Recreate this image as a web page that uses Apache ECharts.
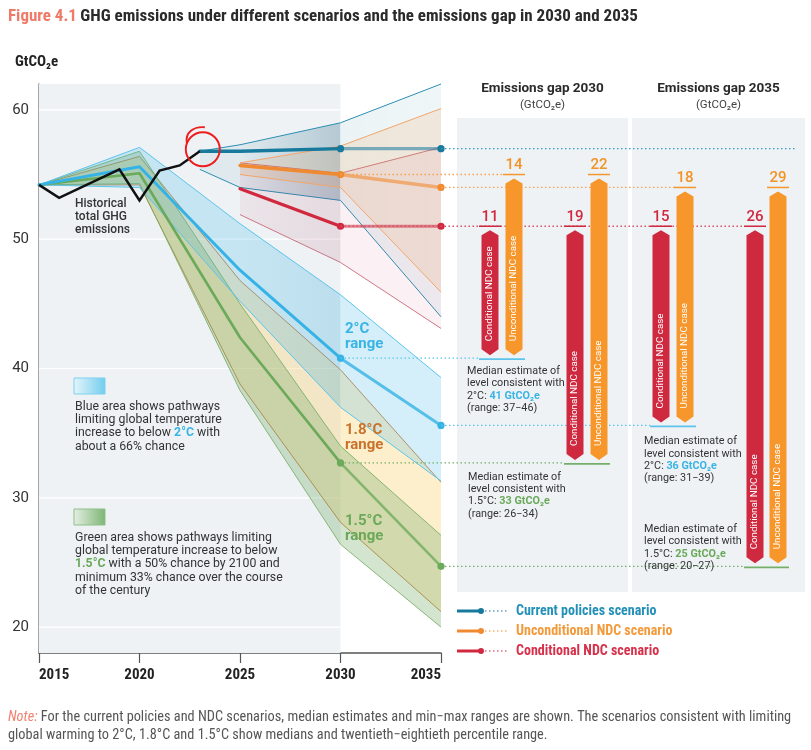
<!DOCTYPE html>
<html><head><meta charset="utf-8">
<script src="https://cdn.jsdelivr.net/npm/echarts@6/dist/echarts.min.js"></script>
<style>html,body{margin:0;padding:0;background:#fff}#c{width:811px;height:750px}</style>
</head><body><div id="c"></div>
<script>
// ---------------- DATA ----------------
const xTicks = [2015, 2020, 2025, 2030, 2035];
const yTicks = [20, 30, 40, 50, 60];

const histYears  = [2015, 2016, 2019, 2020, 2021, 2022, 2023];
const histValues = [54.2, 53.2, 55.4, 53.0, 55.3, 55.7, 56.8];

const pathYears = [2015, 2020, 2025, 2030, 2035];
const p2Median  = [54.2, 55.6, 47.6, 40.8, 35.6];
const p2Upper   = [54.2, 57.1, 51.2, 45.7, 39.3];
const p2Lower   = [54.2, 54.0, 45.2, 37.0, 31.3];
const p18Upper  = [54.2, 56.4, 46.8, 39.9, 31.2];
const p18Lower  = [54.2, 54.2, 38.8, 28.1, 21.2];
const p15Median = [54.2, 55.1, 42.4, 32.7, 24.7];
const p15Upper  = [54.2, 56.8, 45.0, 34.0, 27.1];
const p15Lower  = [54.2, 54.3, 38.3, 26.4, 20.0];

const curYears  = [2023, 2025, 2030, 2035];
const curMedian = [56.8, 56.8, 57.0, 57.0];
const curUpper  = [56.8, 57.3, 59.0, 62.0];
const curLower  = [55.4, 54.0, 53.0, 44.0];

const ndcYears  = [2025, 2030, 2035];
const uncMedian = [55.7, 55.0, 54.0];
const uncUpper  = [55.9, 57.2, 60.1];
const uncLower  = [55.0, 54.0, 45.9];
const conMedian = [53.9, 51.0, 51.0];
const conUpper  = [55.9, 55.1, 57.1];
const conLower  = [51.9, 48.2, 43.1];

const gapYears   = [2030, 2035];
const gapCond    = [[11, 19], [15, 26]];   // [year][2°C, 1.5°C]
const gapUncond  = [[14, 22], [18, 29]];
const target2C   = [41, 36];
const range2C    = ['37−46', '31−39'];
const target15   = [33, 25];
const range15    = ['26−34', '20−27'];
const caseNames  = ['Conditional NDC case', 'Unconditional NDC case'];
const legendNames = ['Current policies scenario', 'Unconditional NDC scenario', 'Conditional NDC scenario'];

// ---------------- LAYOUT / STYLE ----------------
const Y_MIN = 18, Y_MAX = 62, SHADE_END = 2030;
const NARROW = "'Liberation Sans Narrow','Roboto Condensed','Arial Narrow',Roboto,sans-serif";
const SANS = "Roboto,'Noto Sans',sans-serif";
const C = {
  teal: '#17799c', tealLine: '#2b8fb3', orange: '#f08a30', red: '#d0283e',
  blue: '#36b3e6', blueLine: '#5cc4ec', brown: '#c47a3a', green: '#6aaa5a',
  barRed: '#cf2940', barOrange: '#f6962b', panel: '#eef2f5'
};
const L = {
  panels: [{x: 457, w: 171}, {x: 632, w: 173}], panelTop: 118, panelBottom: 592,
  barX: [[[490, 514], [575, 599]], [[661, 685], [755, 778]]],
  barW: 17, curLineEnd: 795,
  medText: [[{x: 467, dy: 7, va: 'top'}, {x: 468, dy: 8, va: 'top'}],
            [{x: 644, dy: 10, va: 'top'}, {x: 644, dy: 6, va: 'bottom'}]]
};

// ---------------- HELPERS ----------------
function band(xs, lo, up, fill, edge, ew, z, shade) {
  return {type: 'custom', z, silent: true, clip: false, data: [[xs[0], lo[0]]],
    renderItem(p, api) {
      const top = xs.map((x, i) => api.coord([x, up[i]]));
      const bot = xs.map((x, i) => api.coord([x, lo[i]]));
      const poly = top.concat(bot.slice().reverse());
      const ch = [{type: 'polygon', shape: {points: poly}, style: {fill: fill, stroke: null}}];
      if (shade) {
        const x0 = api.coord([shade[0], 40])[0], x1 = api.coord([shade[1], 40])[0], x2 = api.coord([xs[xs.length - 1], 40])[0];
        const rgb = shade[5], f = (x1 - x0) / (x2 - x0);
        ch.push({type: 'polygon', shape: {points: poly}, style: {stroke: null,
          fill: new echarts.graphic.LinearGradient(x0, 0, x2, 0, [
            {offset: 0, color: 'rgba(' + rgb + ',' + shade[2] + ')'},
            {offset: f - 0.001, color: 'rgba(' + rgb + ',' + shade[3] + ')'},
            {offset: f, color: 'rgba(' + rgb + ',' + shade[4] + ')'},
            {offset: 1, color: 'rgba(' + rgb + ',0)'}], true)}});
      }
      ch.push({type: 'polyline', shape: {points: top}, style: {stroke: edge, lineWidth: ew, fill: null}});
      ch.push({type: 'polyline', shape: {points: bot}, style: {stroke: edge, lineWidth: ew, fill: null}});
      return {type: 'group', children: ch};
    }};
}
function median(xs, vals, color, width, z, fadeFrom, fadeOpacity, dotsFrom) {
  return {type: 'custom', z, silent: true, clip: false, data: [[xs[0], vals[0]]],
    renderItem(p, api) {
      const pts = xs.map((x, i) => api.coord([x, vals[i]]));
      const strong = pts.filter((q, i) => xs[i] <= fadeFrom);
      const faded = pts.filter((q, i) => xs[i] >= fadeFrom);
      const ch = [
        {type: 'polyline', shape: {points: faded}, style: {stroke: color, opacity: fadeOpacity, lineWidth: width, fill: null, lineJoin: 'round'}},
        {type: 'polyline', shape: {points: strong}, style: {stroke: color, lineWidth: width, fill: null, lineJoin: 'round', lineCap: 'round'}}
      ];
      pts.forEach((q, i) => { if (xs[i] >= dotsFrom) ch.push({type: 'circle', shape: {cx: q[0], cy: q[1], r: 3.6}, style: {fill: color}}); });
      return {type: 'group', children: ch};
    }};
}

// ---------------- GRAPHICS (annotations) ----------------
const G = [];
function T(x, y, text, style) { G.push({type: 'text', x, y, silent: true, z: 50, style: Object.assign({text}, style)}); }

T(8, 17, '{r|Figure 4.1} {d|GHG emissions under different scenarios and the emissions gap in 2030 and 2035}',
  {verticalAlign: 'middle', rich: {
    r: {fill: '#f07a68', fontSize: 17, fontWeight: 'bold', fontFamily: NARROW},
    d: {fill: '#2a2a2a', fontSize: 17, fontWeight: 'bold', fontFamily: NARROW}}});
T(15, 62, 'GtCO₂e', {verticalAlign: 'middle', fill: '#222', fontSize: 15, fontWeight: 'bold', fontFamily: NARROW});

T(75, 197, 'Historical\ntotal GHG\nemissions', {fill: '#333', fontSize: 12, fontWeight: 500, fontFamily: SANS, lineHeight: 13});
T(345, 322, '2°C\nrange', {fill: '#3ab4e4', fontSize: 15, fontWeight: 'bold', fontFamily: SANS, lineHeight: 15});
T(345, 423, '1.8°C\nrange', {fill: '#c8722c', fontSize: 15, fontWeight: 'bold', fontFamily: SANS, lineHeight: 15});
T(345, 514, '1.5°C\nrange', {fill: '#6aa85a', fontSize: 15, fontWeight: 'bold', fontFamily: SANS, lineHeight: 15});

G.push({type: 'rect', silent: true, z: 50, shape: {x: 74, y: 378, width: 31, height: 16},
  style: {stroke: '#7fd0ee', lineWidth: 1, fill: new echarts.graphic.LinearGradient(0, 0, 1, 0, [{offset: 0, color: '#e4f5fb'}, {offset: 1, color: '#72cdee'}])}});
G.push({type: 'rect', silent: true, z: 50, shape: {x: 74, y: 509, width: 31, height: 16},
  style: {stroke: '#8fbf88', lineWidth: 1, fill: new echarts.graphic.LinearGradient(0, 0, 1, 0, [{offset: 0, color: '#e6efe4'}, {offset: 1, color: '#7cb574'}])}});
const boxText = {fill: '#333', fontSize: 12.3, fontFamily: SANS, lineHeight: 13.3};
T(75, 400, 'Blue area shows pathways\nlimiting global temperature\nincrease to below {b|2°C} with\nabout a 66% chance',
  Object.assign({}, boxText, {rich: {b: {fill: '#3ab4e4', fontSize: 12.3, fontWeight: 'bold', fontFamily: SANS, lineHeight: 13.3}}}));
T(75, 531, 'Green area shows pathways limiting\nglobal temperature increase to below\n{g|1.5°C} with a 50% chance by 2100 and\nminimum 33% chance over the course\nof the century',
  Object.assign({}, boxText, {rich: {g: {fill: '#6aa85a', fontSize: 12.3, fontWeight: 'bold', fontFamily: SANS, lineHeight: 13.3}}}));

L.panels.forEach((pn, i) => {
  T(pn.x + pn.w / 2, 89, 'Emissions gap ' + gapYears[i], {align: 'center', verticalAlign: 'middle', fill: '#2a2a2a', fontSize: 13.5, fontWeight: 'bold', fontFamily: SANS});
  T(pn.x + pn.w / 2, 105, '(GtCO₂e)', {align: 'center', verticalAlign: 'middle', fill: '#444', fontSize: 11.5, fontFamily: SANS});
});

const legColors = [C.teal, C.orange, C.red];
const legText = ['#2390b8', '#f39a3a', '#d6304a'];
legendNames.forEach((n, i) => {
  const y = 611 + i * 20;
  G.push({type: 'line', silent: true, z: 50, shape: {x1: 457, y1: y, x2: 481, y2: y}, style: {stroke: legColors[i], lineWidth: 3}});
  G.push({type: 'circle', silent: true, z: 50, shape: {cx: 481, cy: y, r: 3}, style: {fill: legColors[i]}});
  G.push({type: 'line', silent: true, z: 50, shape: {x1: 485, y1: y, x2: 508, y2: y}, style: {stroke: legColors[i], lineWidth: 1.2, lineDash: [1.5, 2.5]}});
  T(516, y, n, {verticalAlign: 'middle', fill: legText[i], fontSize: 14, fontWeight: 'bold', fontFamily: NARROW});
});

T(8, 717, '{n|Note:} For the current policies and NDC scenarios, median estimates and min−max ranges are shown. The scenarios consistent with limiting',
  {verticalAlign: 'middle', fill: '#555', fontSize: 14.3, fontFamily: NARROW, rich: {n: {fill: '#f08070', fontStyle: 'italic', fontSize: 14.3, fontFamily: NARROW}}});
T(8, 735, 'global warming to 2°C, 1.8°C and 1.5°C show medians and twentieth−eightieth percentile range.',
  {verticalAlign: 'middle', fill: '#555', fontSize: 14.3, fontFamily: NARROW});

// ---------------- SERIES ----------------
const series = [];
series.push({type: 'custom', z: 1, silent: true, clip: false, data: [[xTicks[0], Y_MIN]],
  renderItem(p, api) {
    const a = api.coord([xTicks[0], Y_MAX]), b = api.coord([SHADE_END, Y_MIN]);
    const ch = [{type: 'rect', shape: {x: a[0], y: a[1], width: b[0] - a[0], height: b[1] - a[1]}, style: {fill: C.panel}}];
    yTicks.forEach(v => { const y = api.coord([xTicks[0], v])[1];
      ch.push({type: 'line', shape: {x1: a[0], y1: y, x2: b[0], y2: y}, style: {stroke: '#ffffff', lineWidth: 1.2}}); });
    return {type: 'group', children: ch};
  }});

series.push(band(pathYears, p18Lower, p18Upper, 'rgba(249,210,122,0.38)', C.brown, 0.9, 2));
series.push(band(pathYears, p15Lower, p15Upper, 'rgba(110,170,95,0.30)', '#7ab06a', 0.9, 2));
series.push(band(pathYears, p2Lower, p2Upper, 'rgba(59,181,230,0.22)', C.blueLine, 1, 2, [2025, 2030, 0, 0.06, 0, '30,120,160']));
series.push(band(curYears, curLower, curUpper, 'rgba(31,127,160,0.07)', C.tealLine, 1, 3, [2025, 2030, 0, 0.22, 0.02, '30,90,120']));
series.push(band(ndcYears, conLower, conUpper, 'rgba(208,64,96,0.08)', '#c05868', 0.8, 3, [2025, 2030, 0, 0.06, 0, '120,60,80']));
series.push(band(ndcYears, uncLower, uncUpper, 'rgba(243,154,74,0.16)', '#f3a56a', 1, 3));

series.push(median(pathYears, p15Median, C.green, 2.6, 4, 2030, 0.75, 2030));
series.push(median(pathYears, p2Median, C.blue, 3, 4, 2030, 0.8, 2030));
series.push(median(ndcYears, conMedian, C.red, 3.2, 5, 2030, 0.55, 2030));
series.push(median(ndcYears, uncMedian, C.orange, 3.4, 5, 2030, 0.6, 2030));
series.push(median(curYears, curMedian, C.teal, 3.4, 5, 2030, 0.55, 2030));

series.push({type: 'line', z: 6, silent: true, symbol: 'none', data: histYears.map((y, i) => [y, histValues[i]]),
  lineStyle: {color: '#111', width: 2.5, join: 'miter'}});

// red hand-drawn loop around the last historical point (pixel offsets from that point)
series.push({type: 'custom', z: 9, silent: true, clip: false, data: [[histYears[histYears.length - 1], histValues[histValues.length - 1]]],
  renderItem(p, api) {
    const c = api.coord([histYears[histYears.length - 1], histValues[histValues.length - 1]]);
    return {type: 'group', children: [
      {type: 'circle', shape: {cx: c[0] + 3, cy: c[1] - 2, r: 17}, style: {stroke: '#ee1c1c', lineWidth: 1.9, fill: null}},
      {type: 'bezierCurve', shape: {x1: c[0] - 13, y1: c[1] - 8, cpx1: c[0] - 15, cpy1: c[1] - 19, cpx2: c[0] - 6, cpy2: c[1] - 25, x2: c[0] + 5, y2: c[1] - 24},
        style: {stroke: '#ee1c1c', lineWidth: 1.9, fill: null}}
    ]};
  }});

// emissions gap panels
series.push({type: 'custom', z: 7, silent: true, clip: false, data: [[2035, 40]],
  renderItem(p, api) {
    const Y = v => api.coord([2035, v])[1];
    const X = yr => api.coord([yr, 40])[0];
    const ch = [];
    L.panels.forEach(pn => ch.push({type: 'rect', shape: {x: pn.x, y: L.panelTop, width: pn.w, height: L.panelBottom - L.panelTop}, style: {fill: C.panel}}));
    const dotted = (x1, x2, v, color) => ch.push({type: 'line', shape: {x1, y1: Y(v), x2, y2: Y(v)}, style: {stroke: color, lineWidth: 1.3, lineDash: [1.5, 2.5]}});
    const left = (i, j, k) => L.barX[i][j][k] - 11;
    const yi = [ndcYears.indexOf(2030), ndcYears.indexOf(2035)];
    const pi = [pathYears.indexOf(2030), pathYears.indexOf(2035)];
    dotted(X(2035), L.curLineEnd, curMedian[curYears.indexOf(2035)], '#3a9cc0');
    dotted(X(2030), left(0, 0, 1), uncMedian[yi[0]], '#f5a050');
    dotted(X(2035), left(1, 0, 1), uncMedian[yi[1]], '#f5a050');
    dotted(X(2030), left(1, 1, 0), conMedian[yi[0]], '#d85068');
    dotted(X(2030), left(0, 0, 0), p2Median[pi[0]], C.blueLine);
    dotted(X(2035), left(1, 0, 0), p2Median[pi[1]], C.blueLine);
    dotted(X(2030), left(0, 1, 0), p15Median[pi[0]], '#74b06a');
    dotted(X(2035), left(1, 1, 0), p15Median[pi[1]], '#74b06a');

    const w = L.barW / 2;
    gapYears.forEach((gy, i) => {
      [0, 1].forEach(j => {
        const bottomV = j === 0 ? p2Median[pi[i]] : p15Median[pi[i]];
        const yb = Y(bottomV);
        [0, 1].forEach(k => {
          const topV = k === 0 ? conMedian[yi[i]] : uncMedian[yi[i]];
          const yt = Y(topV);
          const cx = L.barX[i][j][k];
          const col = k === 0 ? C.barRed : C.barOrange;
          const a = yt + 4, t = yb - 3;
          ch.push({type: 'polygon', shape: {points: [[cx, a], [cx + w, a + 5], [cx + w, t - 6], [cx, t], [cx - w, t - 6], [cx - w, a + 5]]}, style: {fill: col}});
          ch.push({type: 'line', shape: {x1: cx - 11, y1: yt, x2: cx + 11, y2: yt}, style: {stroke: col, lineWidth: 1.5}});
          ch.push({type: 'text', x: cx, y: yt - 9, style: {text: String(k === 0 ? gapCond[i][j] : gapUncond[i][j]), align: 'center', verticalAlign: 'middle',
            fill: k === 0 ? C.red : '#f39326', fontSize: 15, fontWeight: 500, fontFamily: SANS}});
          ch.push({type: 'text', x: cx, y: t - 14, rotation: Math.PI / 2, style: {text: caseNames[k], align: 'left', verticalAlign: 'middle',
            fill: '#ffffff', fontSize: 9.8, fontFamily: SANS}});
        });
        ch.push({type: 'line', shape: {x1: L.barX[i][j][0] - 11, y1: yb + 1, x2: L.barX[i][j][1] + 11, y2: yb + 1},
          style: {stroke: j === 0 ? C.blueLine : '#74b06a', lineWidth: 1.6}});
        const mt = L.medText[i][j];
        const tc = j === 0 ? '#3ab4e4' : '#6aa85a';
        const val = j === 0 ? target2C[i] : target15[i];
        const rng = j === 0 ? range2C[i] : range15[i];
        const deg = j === 0 ? '2°C' : '1.5°C';
        ch.push({type: 'text', x: mt.x, y: yb + mt.dy, style: {
          text: 'Median estimate of\nlevel consistent with\n' + deg + ': {v|' + val + ' GtCO₂e}\n(range: ' + rng + ')',
          verticalAlign: mt.va, fill: '#333', fontSize: 10.8, fontFamily: SANS, lineHeight: 12.3,
          rich: {v: {fill: tc, fontWeight: 'bold', fontSize: 10.8, fontFamily: SANS, lineHeight: 12.3}}}});
      });
    });
    return {type: 'group', children: ch};
  }});

const chart = echarts.init(document.getElementById('c'), null, {renderer: 'canvas'});
chart.setOption({
  animation: false,
  grid: {left: 39, top: 84, width: 402, bottom: 97, containLabel: false},
  xAxis: {type: 'value', min: xTicks[0], max: xTicks[xTicks.length - 1], interval: 5,
    axisLine: {lineStyle: {color: '#555', width: 1.5}},
    axisTick: {length: 10, lineStyle: {color: '#555', width: 1.2}},
    axisLabel: {margin: 15, fontSize: 15, fontWeight: 'bold', fontFamily: NARROW, color: '#222',
      alignMinLabel: 'left', alignMaxLabel: 'right', formatter: v => String(v)},
    splitLine: {show: false}},
  yAxis: {type: 'value', min: Y_MIN, max: Y_MAX,
    axisLine: {show: true, lineStyle: {color: '#888', width: 1.5}}, axisTick: {show: false},
    axisLabel: {customValues: yTicks, margin: 10, fontSize: 15, color: '#333', fontFamily: SANS},
    splitLine: {show: false}},
  graphic: G,
  series: series
});
</script></body></html>
